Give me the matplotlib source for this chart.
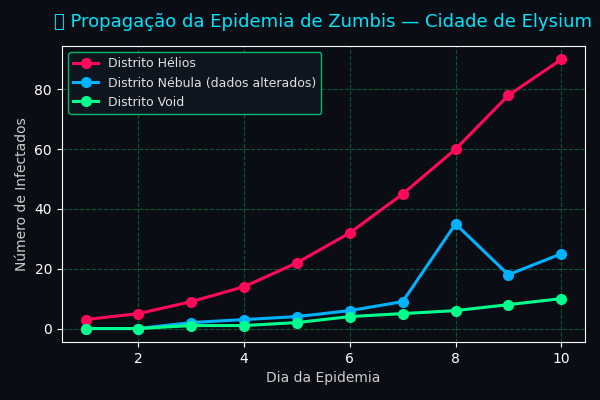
import matplotlib
matplotlib.use("Agg")
import matplotlib.pyplot as plt

dias = [1, 2, 3, 4, 5, 6, 7, 8, 9, 10]
helios = [3, 5, 9, 14, 22, 32, 45, 60, 78, 90]
nebula = [0, 0, 2, 3, 4, 6, 9, 35, 18, 25]
void = [0, 0, 1, 1, 2, 4, 5, 6, 8, 10]

bg = "#0a0e14"
fig, ax = plt.subplots(figsize=(6, 4), dpi=100)
fig.patch.set_facecolor(bg)
ax.set_facecolor(bg)

ax.plot(dias, helios, color="#ff0a5a", marker="o", lw=2.2, ms=7, label="Distrito Hélios")
ax.plot(dias, nebula, color="#00b2ff", marker="o", lw=2.2, ms=7, label="Distrito Nébula (dados alterados)")
ax.plot(dias, void, color="#00ff8c", marker="o", lw=2.2, ms=7, label="Distrito Void")

ax.grid(True, color="#00ff88", alpha=0.3, linestyle="--", linewidth=0.8)
for s in ax.spines.values():
    s.set_color("white")
ax.tick_params(colors="white", labelsize=10)
ax.set_xlabel("Dia da Epidemia", color="#cccccc", fontsize=10)
ax.set_ylabel("Número de Infectados", color="#cccccc", fontsize=10)
ax.set_title("🧟 Propagação da Epidemia de Zumbis — Cidade de Elysium",
             color="#00e5ff", fontsize=13, pad=14)

leg = ax.legend(loc="upper left", facecolor="#0f1620", edgecolor="#00cc77", fontsize=9, framealpha=0.9)
for t in leg.get_texts():
    t.set_color("#e0e0e0")

fig.subplots_adjust(left=0.103, right=0.975, top=0.885, bottom=0.145)
fig.savefig("out.png", dpi=100, facecolor=bg)
